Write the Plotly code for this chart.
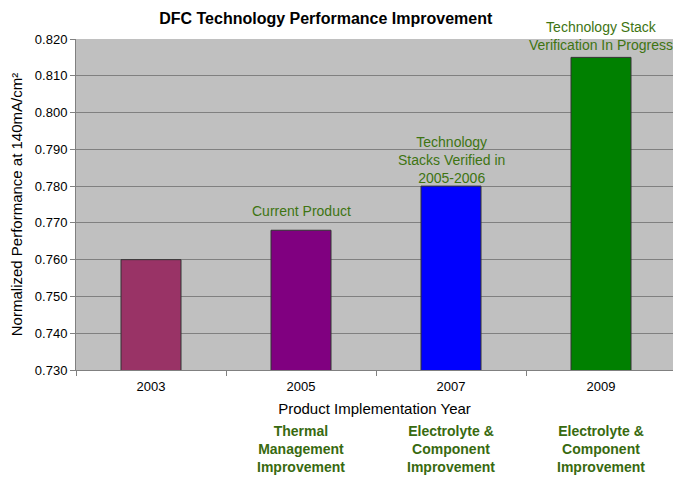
import plotly.graph_objects as go

years = ["2003", "2005", "2007", "2009"]
performance = [0.760, 0.768, 0.780, 0.815]
bar_colors = ["#993366", "#800080", "#0000FF", "#008000"]
top_labels = ["", "Current Product", "Technology<br>Stacks Verified in<br>2005-2006",
              "Technology Stack<br>Verification In Progress"]
bottom_labels = ["", "Thermal<br>Management<br>Improvement",
                 "Electrolyte &<br>Component<br>Improvement",
                 "Electrolyte &<br>Component<br>Improvement"]

FONT = "Liberation Sans, Arial, sans-serif"
GREEN = "#3E7412"
DARKGREEN = "#386A10"
label_shift = [0, 9, -2, 2]

fig = go.Figure()
fig.add_trace(go.Bar(
    x=years, y=performance, width=0.4,
    marker=dict(color=bar_colors, line=dict(color="#333333", width=1)),
    hoverinfo="x+y",
))

annotations = []
for i, (v, t) in enumerate(zip(performance, top_labels)):
    if t:
        annotations.append(dict(x=i, y=v, xref="x", yref="y", text=t, showarrow=False,
                                yanchor="bottom", yshift=label_shift[i],
                                font=dict(family=FONT, size=14, color=GREEN)))
for i, t in enumerate(bottom_labels):
    if t:
        annotations.append(dict(x=i, y=-0.239, xref="x", yref="paper", text=t, showarrow=False,
                                yanchor="middle",
                                font=dict(family=FONT, size=14, color=DARKGREEN, weight="bold")))

fig.update_layout(
    width=673, height=477,
    margin=dict(l=76, r=0, t=39, b=107),
    paper_bgcolor="white", plot_bgcolor="#C0C0C0",
    showlegend=False,
    title=dict(text="<b>DFC Technology Performance Improvement</b>", x=0.484, xanchor="center",
               y=0.962, yanchor="middle", font=dict(family=FONT, size=16, color="black")),
    font=dict(family=FONT, size=13, color="black"),
    annotations=annotations,
    xaxis=dict(type="category", range=[-0.5, 3.48],
               title=dict(text="Product Implementation Year", font=dict(size=15), standoff=10),
               showline=True, linecolor="#808080", linewidth=1,
               ticks="outside", tickson="boundaries", ticklen=5, tickcolor="#808080",
               ticklabelstandoff=4,
               showgrid=False, tickfont=dict(size=13)),
    yaxis=dict(range=[0.730, 0.820], dtick=0.010, tickformat=".3f",
               title=dict(text="Normalized Performance at 140mA/cm²", font=dict(size=15), standoff=8),
               showline=True, linecolor="#808080", linewidth=1,
               ticks="outside", ticklen=5, tickcolor="#808080",
               showgrid=True, gridcolor="#808080", gridwidth=1, zeroline=False,
               tickfont=dict(size=13)),
)

fig.write_html("out.html", config={"displayModeBar": False},
               post_script="document.body.style.margin='0px';document.body.style.overflow='hidden';")
